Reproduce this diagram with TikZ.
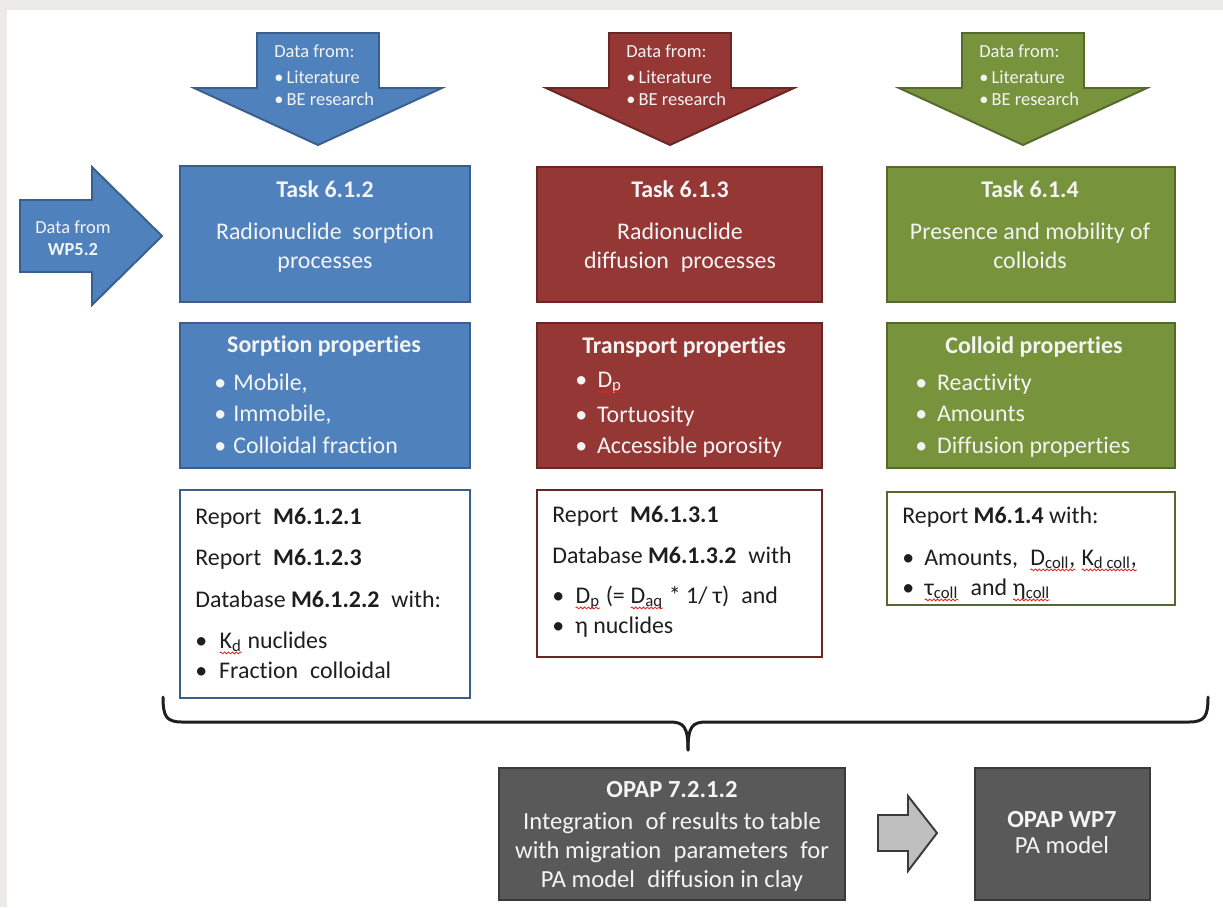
\documentclass[tikz,border=0pt]{standalone}
\usepackage{fontspec}
\setmainfont[Ligatures={NoCommon}]{Carlito}
\usetikzlibrary{fit,decorations.pathmorphing}
\definecolor{bfill}{HTML}{4F81BD}
\definecolor{bline}{HTML}{3A5F8C}
\definecolor{rfill}{HTML}{953735}
\definecolor{rline}{HTML}{6A2624}
\definecolor{gfill}{HTML}{77933C}
\definecolor{gline}{HTML}{56692B}
\definecolor{dfill}{HTML}{595959}
\definecolor{dline}{HTML}{3A3A3A}
\definecolor{afill}{HTML}{BFBFBF}
\definecolor{framecol}{HTML}{EBEAE6}
\definecolor{ltxt}{HTML}{F4F4F4}
\definecolor{dtxt}{HTML}{1E1E1E}
\definecolor{sqcol}{HTML}{E02424}
\newcommand\bl[1]{\makebox[#1][l]{•}}
\newcommand\sq[1]{\tikz[baseline=(sqa.base)]{\node[inner sep=0pt,outer sep=0pt](sqa){#1};\draw[sqcol,line width=0.45pt,decorate,decoration={snake,amplitude=0.55pt,segment length=2.2pt}]([yshift=-2.8pt]sqa.base west) -- ([yshift=-2.8pt]sqa.base east);}}
\tikzset{
  pbox/.style={inner sep=0pt, line width=1.1pt},
  lt/.style={inner sep=0pt, text=ltxt},
  dk/.style={inner sep=0pt, text=dtxt},
  fbig/.style={font=\fontsize{13.6}{16}\selectfont},
  fsm/.style={font=\fontsize{10.5}{12}\selectfont},
  fbot/.style={font=\fontsize{14}{17}\selectfont},
  arrtxt/.style={lt, fsm, anchor=base west},
  ctr/.style={lt, fbig, anchor=base},
  lft/.style={lt, fbig, anchor=base west},
  dlft/.style={dk, fbig, anchor=base west},
  bot/.style={lt, fbot, anchor=base},
  brace/.style={line width=1.7pt, draw=dtxt, line join=round, line cap=round},
  blockarrow/.style={line width=1.1pt, line join=miter},
}
\begin{document}
\begin{tikzpicture}[x=0.02cm,y=-0.02cm]
\useasboundingbox (0,0) rectangle (1223,907);
\fill[white] (0,0) rectangle (1223,907);
\fill[framecol] (0,0) rectangle (1223,10);
\fill[framecol] (0,0) rectangle (7,907);

% ---------- top block arrows ----------
\foreach \c/\f/\d in {318/bfill/bline, 670/rfill/rline, 1023/gfill/gline} {
  \filldraw[blockarrow, fill=\f, draw=\d] ({\c-61},33) -- ({\c+61},33) -- ({\c+61},88) -- ({\c+124},88) -- (\c,145) -- ({\c-124},88) -- ({\c-61},88) -- cycle;
  \node[arrtxt] (dfa\c) at ({\c-44},57) {Data from:};
  \node[arrtxt] (dfb\c) at ({\c-44},83) {\bl{7pt}Literature};
  \node[arrtxt] (dfc\c) at ({\c-44},105) {\bl{7pt}BE research};
}

% ---------- left block arrow ----------
\filldraw[blockarrow, fill=bfill, draw=bline] (20,200) -- (92,200) -- (92,167) -- (162,236) -- (92,305) -- (92,272) -- (20,272) -- cycle;
\node[lt, fsm, anchor=base] (wpa) at (73,233) {Data from};
\node[lt, fsm, anchor=base] (wpb) at (73,255) {\textbf{WP5.2}};

% ---------- blue column ----------
\node[pbox, fill=bfill, draw=bline, fit={(180,166) (470,302)}] (task1) {};
\node[ctr] (t1a) at (325,197) {\textbf{Task 6.1.2}};
\node[ctr] (t1b) at (325,239) {Radionuclide~ sorption};
\node[ctr] (t1c) at (325,268) {processes};

\node[pbox, fill=bfill, draw=bline, fit={(180,323) (470,468)}] (prop1) {};
\node[ctr] (p1a) at (324,352) {\textbf{Sorption properties}};
\node[lft] (p1b) at (214,390) {\bl{10.8pt}Mobile,};
\node[lft] (p1c) at (214,421) {\bl{10.8pt}Immobile,};
\node[lft] (p1d) at (214,453) {\bl{10.8pt}Colloidal fraction};

\node[pbox, fill=white, draw=bline, fit={(180,490) (470,698)}] (rep1) {};
\node[dlft] (r1a) at (195,524) {Report\enspace\textbf{M6.1.2.1}};
\node[dlft] (r1b) at (195,565) {Report\enspace\textbf{M6.1.2.3}};
\node[dlft] (r1c) at (195,607) {Database \textbf{M6.1.2.2}\enspace with:};
\node[dlft] (r1d) at (195,648) {\bl{13.6pt}\sq{K\textsubscript{d}} nuclides};
\node[dlft] (r1e) at (195,678) {\bl{13.6pt}Fraction\enspace colloidal};

% ---------- red column ----------
\node[pbox, fill=rfill, draw=rline, fit={(537,167) (822,302)}] (task2) {};
\node[ctr] (t2a) at (680,197) {\textbf{Task 6.1.3}};
\node[ctr] (t2b) at (680,239) {Radionuclide};
\node[ctr] (t2c) at (680,268) {diffusion\enspace processes};

\node[pbox, fill=rfill, draw=rline, fit={(537,323) (822,468)}] (prop2) {};
\node[ctr] (p2a) at (684,353) {\textbf{Transport properties}};
\node[lft] (p2b) at (575,387) {\bl{12.4pt}\sq{D\textsubscript{p}}};
\node[lft] (p2c) at (575,422) {\bl{12.4pt}Tortuosity};
\node[lft] (p2d) at (575,453) {\bl{12.4pt}Accessible porosity};

\node[pbox, fill=white, draw=rline, fit={(537,490) (822,657)}] (rep2) {};
\node[dlft] (r2a) at (552,522) {Report\enspace\textbf{M6.1.3.1}};
\node[dlft] (r2b) at (552,563) {Database \textbf{M6.1.3.2}\enspace with};
\node[dlft] (r2c) at (552,603) {\bl{13pt}\sq{D\textsubscript{p}} (= \sq{D\textsubscript{aq}} * 1/ τ)\enspace and};
\node[dlft] (r2d) at (552,633) {\bl{13pt}η nuclides};

% ---------- green column ----------
\node[pbox, fill=gfill, draw=gline, fit={(887,167) (1175,302)}] (task3) {};
\node[ctr] (t3a) at (1030,197) {\textbf{Task 6.1.4}};
\node[ctr] (t3b) at (1030,239) {Presence and mobility of};
\node[ctr] (t3c) at (1030,268) {colloids};

\node[pbox, fill=gfill, draw=gline, fit={(887,323) (1175,468)}] (prop3) {};
\node[ctr] (p3a) at (1034,353) {\textbf{Colloid properties}};
\node[lft] (p3b) at (915,390) {\bl{12.4pt}Reactivity};
\node[lft] (p3c) at (915,421) {\bl{12.4pt}Amounts};
\node[lft] (p3d) at (915,453) {\bl{12.4pt}Diffusion properties};

\node[pbox, fill=white, draw=gline, fit={(887,492) (1175,605)}] (rep3) {};
\node[dlft] (r3a) at (902,523) {Report \textbf{M6.1.4} with:};
\node[dlft] (r3b) at (902,565) {\bl{12.5pt}Amounts,\enspace \sq{D\textsubscript{coll},} \sq{K\textsubscript{d coll},}};
\node[dlft] (r3c) at (902,595) {\bl{12.5pt}\sq{τ\textsubscript{coll}}\enspace and \sq{η\textsubscript{coll}}};

% ---------- brace ----------
\coordinate (brtip) at (688,750);
\draw[brace] (163,697) .. controls (163,716) and (166,722) .. (182,722) -- (670,722) .. controls (684,722) and (688,727) .. (brtip);
\draw[brace] (1208,697) .. controls (1208,716) and (1205,722) .. (1189,722) -- (706,722) .. controls (692,722) and (688,727) .. (brtip);

% ---------- bottom ----------
\node[pbox, fill=dfill, draw=dline, fit={(499,768) (845,900)}] (opap1) {};
\node[bot] (o1a) at (672,797) {\textbf{OPAP 7.2.1.2}};
\node[bot] (o1b) at (672,829) {Integration\enspace of results to table};
\node[bot] (o1c) at (672,858) {with migration\enspace parameters\enspace for};
\node[bot] (o1d) at (672,887) {PA model\enspace diffusion in clay};

\filldraw[blockarrow, fill=afill, draw=dline] (878,815) -- (908,815) -- (908,796) -- (937,833) -- (908,871) -- (908,851) -- (878,851) -- cycle;

\node[pbox, fill=dfill, draw=dline, fit={(975,768) (1150,900)}] (opap2) {};
\node[bot] (o2a) at (1062,827) {\textbf{OPAP WP7}};
\node[bot] (o2b) at (1062,853) {PA model};
\end{tikzpicture}
\end{document}
